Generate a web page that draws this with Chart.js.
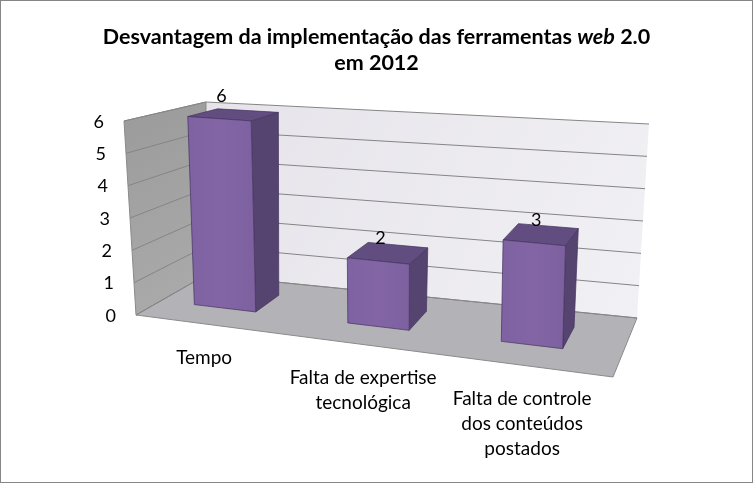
<!DOCTYPE html>
<html>
<head>
<meta charset="utf-8">
<script src="https://cdn.jsdelivr.net/npm/chart.js@4.4.1/dist/chart.umd.min.js"></script>
<style>
  html, body { margin: 0; padding: 0; background: #fff; }
  canvas { display: block; }
</style>
</head>
<body>
<canvas id="myChart" width="753" height="483"></canvas>
<script>
// data
const categories = [
  ["Tempo"],
  ["Falta de expertise", "tecnológica"],
  ["Falta de controle", "dos conteúdos", "postados"],
];
const values = [6, 2, 3];
const yTicks = [0, 1, 2, 3, 4, 5, 6];
const titleLine1 = ["Desvantagem da implementação das ferramentas ", "web", " 2.0"];
const titleLine2 = "em 2012";

// 3d box corners on screen (f/b = front/back, l/r = left/right, b/t = bottom/top)
const box = {
  flb: [136, 315], flt: [124, 121],
  frb: [613, 377], frt: [618, 160],
  blb: [206, 275], blt: [206, 102],
  brb: [637, 318], brt: [649, 124],
};
const barDepth = [0.36, 0.74];
const xShift = -0.028;
const FONT = "Lato, 'Open Sans', sans-serif";

function lerp(a, b, t) {
  return [a[0] + (b[0] - a[0]) * t, a[1] + (b[1] - a[1]) * t];
}
// x, v, z all 0..1
function project(x, v, z) {
  var front = lerp(lerp(box.flb, box.frb, x), lerp(box.flt, box.frt, x), v);
  var back = lerp(lerp(box.blb, box.brb, x), lerp(box.blt, box.brt, x), v);
  return lerp(front, back, z);
}
function poly(ctx, pts, fill, stroke, lw) {
  ctx.beginPath();
  ctx.moveTo(pts[0][0], pts[0][1]);
  for (var i = 1; i < pts.length; i++) ctx.lineTo(pts[i][0], pts[i][1]);
  ctx.closePath();
  if (fill) { ctx.fillStyle = fill; ctx.fill(); }
  if (stroke) { ctx.strokeStyle = stroke; ctx.lineWidth = lw || 1; ctx.stroke(); }
}
function vOf(chart, value) {
  var s = chart.scales.y;
  var a = chart.chartArea;
  return (a.bottom - s.getPixelForValue(value)) / (a.bottom - a.top);
}

const walls = {
  id: "walls",
  beforeDatasetsDraw(chart) {
    var ctx = chart.ctx;
    ctx.save();
    // back wall
    var g = ctx.createLinearGradient(box.blt[0], box.blt[1], box.brb[0], box.brb[1]);
    g.addColorStop(0, "#e6e4ea");
    g.addColorStop(1, "#f1f0f4");
    poly(ctx, [project(0, 0, 1), project(1, 0, 1), project(1, 1, 1), project(0, 1, 1)], g);
    // left wall
    var g2 = ctx.createLinearGradient(box.flt[0], box.flt[1], box.blb[0], box.blb[1]);
    g2.addColorStop(0, "#9c9c9c");
    g2.addColorStop(1, "#a9a9a9");
    poly(ctx, [project(0, 0, 0), project(0, 0, 1), project(0, 1, 1), project(0, 1, 0)], g2, "#8a8a8a", 1);
    // floor
    poly(ctx, [project(0, 0, 0), project(1, 0, 0), project(1, 0, 1), project(0, 0, 1)], "#b3b2b7", "#8a8a8a", 1);

    // grid lines
    ctx.strokeStyle = "#858585";
    ctx.lineWidth = 1;
    yTicks.forEach(function (t) {
      var v = vOf(chart, t);
      var p0 = project(0, v, 0), p1 = project(0, v, 1), p2 = project(1, v, 1);
      ctx.beginPath();
      ctx.moveTo(p0[0], p0[1]);
      ctx.lineTo(p1[0], p1[1]);
      ctx.lineTo(p2[0], p2[1]);
      ctx.stroke();
    });

    // y tick labels along the front left edge
    ctx.fillStyle = "#000";
    ctx.font = "18px " + FONT;
    ctx.textAlign = "right";
    ctx.textBaseline = "middle";
    yTicks.forEach(function (t) {
      var p = project(0, vOf(chart, t), 0);
      ctx.fillText(String(t), p[0] - 20, p[1] + 1);
    });
    ctx.restore();
  },
};

const bars3d = {
  id: "bars3d",
  afterDatasetsDraw(chart) {
    var ctx = chart.ctx;
    var a = chart.chartArea;
    var meta = chart.getDatasetMeta(0);
    ctx.save();
    ctx.lineJoin = "round";
    meta.data.forEach(function (bar, i) {
      var p = bar.getProps(["x", "y", "base", "width"], true);
      var x1 = (p.x - p.width / 2 - a.left) / a.width + xShift;
      var x2 = (p.x + p.width / 2 - a.left) / a.width + xShift;
      var v = (a.bottom - p.y) / (a.bottom - a.top);
      var z1 = barDepth[0], z2 = barDepth[1];
      var edge = "rgba(70,52,98,0.9)";
      // right side
      poly(ctx, [project(x2, 0, z1), project(x2, 0, z2), project(x2, v, z2), project(x2, v, z1)], "#55446f", edge, 0.8);
      // top
      poly(ctx, [project(x1, v, z1), project(x2, v, z1), project(x2, v, z2), project(x1, v, z2)], "#624d80", edge, 0.8);
      // front
      var f0 = project(x1, v, z1), f1 = project(x2, 0, z1);
      var g = ctx.createLinearGradient(f0[0], 0, f1[0], 0);
      g.addColorStop(0, "#7e62a1");
      g.addColorStop(0.5, "#8365a5");
      g.addColorStop(1, "#7d619f");
      poly(ctx, [project(x1, 0, z1), project(x2, 0, z1), project(x2, v, z1), project(x1, v, z1)], g, edge, 0.8);

      // value label
      var xc = (x1 + x2) / 2;
      var lp = project(xc, v, z1);
      ctx.fillStyle = "#000";
      ctx.font = "18px " + FONT;
      ctx.textAlign = "center";
      ctx.textBaseline = "middle";
      ctx.fillText(String(values[i]), lp[0] + 2, lp[1] - 23);

      // category label below the floor
      ctx.font = "19px " + FONT;
      var cp = project(xc, 0, 0);
      categories[i].forEach(function (line, j) {
        ctx.fillText(line, cp[0] + 2, cp[1] + 34 + j * 25);
      });
    });
    ctx.restore();
  },
};

const titleAndFrame = {
  id: "titleAndFrame",
  afterDraw(chart) {
    var ctx = chart.ctx;
    var cx = chart.width / 2;
    ctx.save();
    ctx.fillStyle = "#000";
    ctx.textBaseline = "middle";
    ctx.textAlign = "left";
    var fonts = ["bold 21.5px " + FONT, "italic bold 21.5px " + FONT, "bold 21.5px " + FONT];
    var total = 0;
    titleLine1.forEach(function (s, i) {
      ctx.font = fonts[i];
      total += ctx.measureText(s).width;
    });
    var x = cx - total / 2;
    titleLine1.forEach(function (s, i) {
      ctx.font = fonts[i];
      ctx.fillText(s, x, 37);
      x += ctx.measureText(s).width;
    });
    ctx.font = fonts[0];
    ctx.textAlign = "center";
    ctx.fillText(titleLine2, cx, 63);

    ctx.strokeStyle = "#868686";
    ctx.lineWidth = 1;
    ctx.strokeRect(0.5, 0.5, chart.width - 1, chart.height - 1);
    ctx.restore();
  },
};

new Chart(document.getElementById("myChart"), {
  type: "bar",
  data: {
    labels: categories,
    datasets: [
      {
        label: "Desvantagem",
        data: values,
        backgroundColor: "rgba(0,0,0,0)",
        borderWidth: 0,
        categoryPercentage: 0.8,
        barPercentage: 0.5,
      },
    ],
  },
  options: {
    responsive: false,
    animation: false,
    layout: { padding: { left: 136, right: 140, top: 121, bottom: 168 } },
    scales: {
      x: { display: false },
      y: { display: false, min: 0, max: 6, ticks: { stepSize: 1 } },
    },
    plugins: {
      legend: { display: false },
      title: { display: false },
      tooltip: { enabled: false },
    },
  },
  plugins: [walls, bars3d, titleAndFrame],
});
</script>
</body>
</html>
